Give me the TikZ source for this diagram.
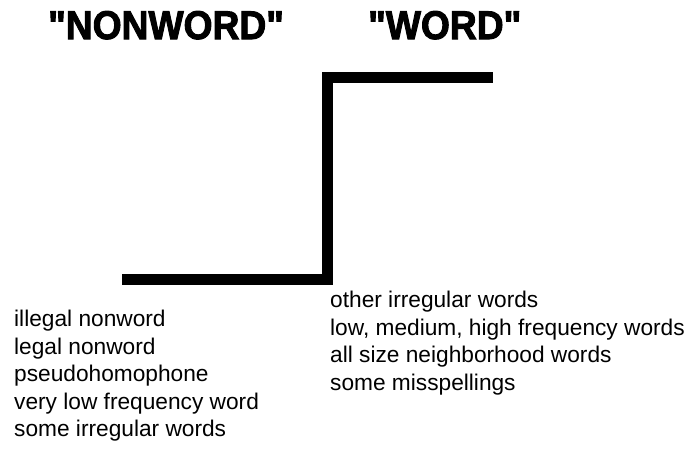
\documentclass[tikz,border=0pt]{standalone}
\usepackage{fontspec}
\setmainfont{Liberation Sans}
\newfontfamily\titlefont{Liberation Sans}
\usepackage{graphicx}
\newcommand{\heavy}[1]{\special{pdf:literal 1 w 2 Tr}#1\special{pdf:literal 0 Tr}}
\tikzset{
  title/.style={anchor=base west, inner sep=0pt, font=\titlefont\fontsize{40}{44}\selectfont\bfseries},
  item/.style={anchor=base west, inner sep=0pt, font=\fontsize{22.7}{26}\selectfont},
  stepline/.style={line width=11pt, line join=miter, line cap=butt, draw=black}
}
\begin{document}
\begin{tikzpicture}[x=1pt,y=-1pt]
\useasboundingbox (0,0) rectangle (688,448);
\node[title] (nonword) at (48,39) {\scalebox{0.93}[1]{\heavy{"NONWORD"}}};
\node[title] (word) at (368,39) {\scalebox{0.93}[1]{\heavy{"WORD"}}};
\coordinate (s0) at (122,279.5);
\coordinate (s1) at (327,279.5);
\coordinate (s2) at (327,77.5);
\coordinate (s3) at (493,77.5);
\draw[stepline] (s0) -- (s1) -- (s2) -- (s3);
\node[item] (l1) at (14,326.5) {illegal nonword};
\node[item] (l2) at (14,354) {legal nonword};
\node[item] (l3) at (14,381.5) {pseudohomophone};
\node[item] (l4) at (14,409) {very low frequency word};
\node[item] (l5) at (14,436.5) {some irregular words};
\node[item] (r1) at (330,307.5) {other irregular words};
\node[item] (r2) at (330,335) {low, medium, high frequency words};
\node[item] (r3) at (330,362.5) {all size neighborhood words};
\node[item] (r4) at (330,390) {some misspellings};
\end{tikzpicture}
\end{document}
